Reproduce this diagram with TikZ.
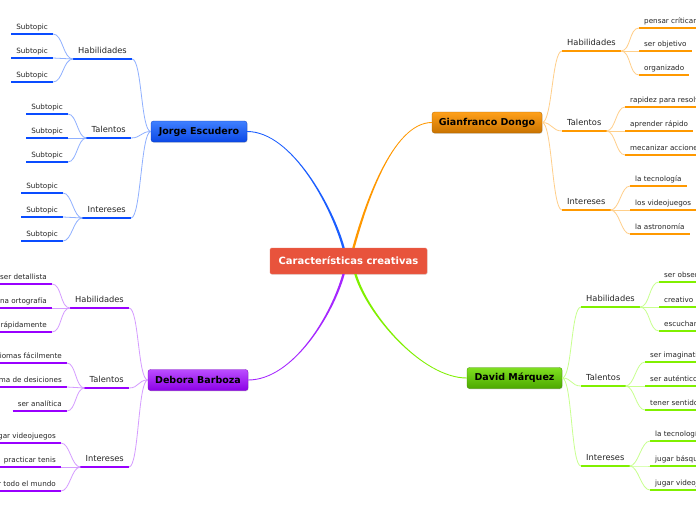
\documentclass[tikz,border=0pt]{standalone}
\usepackage{fontspec}
\setmainfont{DejaVu Sans}
\usetikzlibrary{shadows}
\definecolor{cred}{HTML}{E8533C}
\definecolor{bmain}{HTML}{1B5EFF}
\definecolor{bline}{HTML}{0A4CFF}
\definecolor{blight}{HTML}{8FB0FF}
\definecolor{btop}{HTML}{3F80FF}
\definecolor{bbot}{HTML}{0B48E6}
\definecolor{omain}{HTML}{FF9800}
\definecolor{oline}{HTML}{FF9900}
\definecolor{olight}{HTML}{FFCF8A}
\definecolor{otop}{HTML}{FFA01A}
\definecolor{obot}{HTML}{C97300}
\definecolor{pmain}{HTML}{A526FF}
\definecolor{pline}{HTML}{9900FF}
\definecolor{plight}{HTML}{D59CFF}
\definecolor{ptop}{HTML}{BB4DFF}
\definecolor{pbot}{HTML}{8C00E6}
\definecolor{gmain}{HTML}{80F000}
\definecolor{gline}{HTML}{80F000}
\definecolor{glight}{HTML}{C8FF8F}
\definecolor{gtop}{HTML}{7FE020}
\definecolor{gbot}{HTML}{4CA800}
\tikzset{
  maintopic/.style 2 args={rounded corners=2.5pt, top color=#1, bottom color=#2,
    draw=#2!85!black, line width=0.3pt, minimum height=21pt, inner sep=0pt,
    font=\bfseries\fontsize{9.5}{11}\selectfont, text=black,
    drop shadow={opacity=0.25,shadow xshift=0.6pt,shadow yshift=-0.8pt}},
  branchlbl/.style={font=\fontsize{8.3}{9}\selectfont, text=black!85, inner xsep=5pt,
    inner ysep=5pt, text height=6pt, text depth=0pt},
  sublbl/.style={font=\fontsize{7.2}{8}\selectfont, text=black!85, inner xsep=5pt,
    inner ysep=4.5pt, text height=5.5pt, text depth=0pt},
  uline/.style={line width=2.3pt},
  thinline/.style={line width=0.8pt},
}
% tapered main connector: color, start, ctrl1, ctrl2, end, sx, sy
\newcommand\taperline[7]{%
  \fill[#1] ([xshift={(#6)*1.2pt}]#2) .. controls +(#3) and +(#4) .. ([yshift={(#7)*0.45pt}]#5)
    -- ([yshift={-(#7)*0.45pt}]#5) .. controls +(#4) and +(#3) .. ([xshift={-(#6)*1.2pt}]#2) -- cycle;}
% left-side label with underline (anchor at right end of underline)
\newcommand\lblL[5]{%
  \node[#1, anchor=south east] (#2) at (#3) {#5};
  \draw[uline,#4] (#2.south west) -- (#2.south east);}
% right-side label with underline (anchor at left end of underline)
\newcommand\lblR[5]{%
  \node[#1, anchor=south west] (#2) at (#3) {#5};
  \draw[uline,#4] (#2.south west) -- (#2.south east);}
% bracket connector
\newcommand\conn[4]{\draw[thinline,#1] (#2) .. controls +(#4,0) and +(-#4,0) .. (#3);}
\begin{document}
\begin{tikzpicture}[x=1pt,y=-1pt]
\useasboundingbox (0,0) rectangle (696,520);
\fill[white] (0,0) rectangle (696,520);

% ---------- central + main topics
\node[fill=cred, draw=cred!85!white, rounded corners=1.5pt, minimum width=157pt,
  minimum height=26pt, inner sep=0pt, text=white,
  font=\bfseries\fontsize{10}{12}\selectfont,
  drop shadow={opacity=0.2,shadow xshift=0.6pt,shadow yshift=-0.8pt}] (C) at (348.5,261) {Características creativas};
\node[maintopic={btop}{bbot}, minimum width=96pt] (J) at (199,131.5) {Jorge Escudero};
\node[maintopic={otop}{obot}, minimum width=110pt] (G) at (487,122.5) {Gianfranco Dongo};
\node[maintopic={ptop}{pbot}, minimum width=100pt] (D) at (198,380) {Debora Barboza};
\node[maintopic={gtop}{gbot}, minimum width=95pt] (M) at (514.5,378) {David Márquez};

\coordinate (CNL) at ([xshift=-5pt]C.north);
\coordinate (CNR) at ([xshift=5pt]C.north);
\coordinate (CSL) at ([xshift=-5pt]C.south);
\coordinate (CSR) at ([xshift=7pt]C.south);
\taperline{bmain}{CNL}{-11,-40}{45,0}{J.east}{-1}{-1}
\taperline{omain}{CNR}{11,-40}{-40,0}{G.west}{-1}{1}
\taperline{pmain}{CSL}{-11,40}{45,0}{D.east}{1}{-1}
\taperline{gmain}{CSR}{12,40}{-45,0}{M.west}{1}{1}

% ---------- Jorge Escudero
\lblL{branchlbl}{JH}{132,59}{bline}{Habilidades}
\lblL{branchlbl}{JT}{131,138}{bline}{Talentos}
\lblL{branchlbl}{JI}{131,218}{bline}{Intereses}
\conn{blight}{J.west}{JH.south east}{-10}
\conn{blight}{J.west}{JT.south east}{-10}
\conn{blight}{J.west}{JI.south east}{-10}
\lblL{sublbl}{JH1}{53,34}{bline}{Subtopic}
\lblL{sublbl}{JH2}{53,58}{bline}{Subtopic}
\lblL{sublbl}{JH3}{53,82}{bline}{Subtopic}
\lblL{sublbl}{JT1}{68,114}{bline}{Subtopic}
\lblL{sublbl}{JT2}{68,138}{bline}{Subtopic}
\lblL{sublbl}{JT3}{68,162}{bline}{Subtopic}
\lblL{sublbl}{JI1}{63,193}{bline}{Subtopic}
\lblL{sublbl}{JI2}{63,217}{bline}{Subtopic}
\lblL{sublbl}{JI3}{63,241}{bline}{Subtopic}
\foreach \s in {1,2,3}{
  \conn{blight}{JH.south west}{JH\s.south east}{-10}
  \conn{blight}{JT.south west}{JT\s.south east}{-9}
  \conn{blight}{JI.south west}{JI\s.south east}{-9}
}

% ---------- Gianfranco Dongo
\lblR{branchlbl}{GH}{562,51}{oline}{Habilidades}
\lblR{branchlbl}{GT}{562,131}{oline}{Talentos}
\lblR{branchlbl}{GI}{562,210}{oline}{Intereses}
\conn{olight}{G.east}{GH.south west}{10}
\conn{olight}{G.east}{GT.south west}{10}
\conn{olight}{G.east}{GI.south west}{10}
\lblR{sublbl}{GH1}{639,28}{oline}{pensar críticamente}
\lblR{sublbl}{GH2}{639,51}{oline}{ser objetivo}
\lblR{sublbl}{GH3}{639,75}{oline}{organizado}
\lblR{sublbl}{GT1}{625,107}{oline}{rapidez para resolver}
\lblR{sublbl}{GT2}{625,131}{oline}{aprender rápido}
\lblR{sublbl}{GT3}{625,155}{oline}{mecanizar acciones}
\lblR{sublbl}{GI1}{630,186}{oline}{la tecnología}
\lblR{sublbl}{GI2}{630,210}{oline}{los videojuegos}
\lblR{sublbl}{GI3}{630,234}{oline}{la astronomía}
\foreach \s in {1,2,3}{
  \conn{olight}{GH.south east}{GH\s.south west}{10}
  \conn{olight}{GT.south east}{GT\s.south west}{9}
  \conn{olight}{GI.south east}{GI\s.south west}{9}
}

% ---------- Debora Barboza
\lblL{branchlbl}{DH}{129,308}{pline}{Habilidades}
\lblL{branchlbl}{DT}{129,388}{pline}{Talentos}
\lblL{branchlbl}{DI}{129,467}{pline}{Intereses}
\conn{plight}{D.west}{DH.south east}{-10}
\conn{plight}{D.west}{DT.south east}{-10}
\conn{plight}{D.west}{DI.south east}{-10}
\lblL{sublbl}{DH1}{52,284}{pline}{ser detallista}
\lblL{sublbl}{DH2}{52,308}{pline}{buena ortografía}
\lblL{sublbl}{DH3}{52,332}{pline}{escribir rápidamente}
\lblL{sublbl}{DT1}{67,363}{pline}{aprender idiomas fácilmente}
\lblL{sublbl}{DT2}{67,387}{pline}{buena toma de desiciones}
\lblL{sublbl}{DT3}{67,411}{pline}{ser analítica}
\lblL{sublbl}{DI1}{61,443}{pline}{jugar videojuegos}
\lblL{sublbl}{DI2}{61,467}{pline}{practicar tenis}
\lblL{sublbl}{DI3}{61,491}{pline}{viajar por todo el mundo}
\foreach \s in {1,2,3}{
  \conn{plight}{DH.south west}{DH\s.south east}{-10}
  \conn{plight}{DT.south west}{DT\s.south east}{-9}
  \conn{plight}{DI.south west}{DI\s.south east}{-9}
}

% ---------- David Márquez
\lblR{branchlbl}{MH}{581,307}{gline}{Habilidades}
\lblR{branchlbl}{MT}{581,386}{gline}{Talentos}
\lblR{branchlbl}{MI}{581,466}{gline}{Intereses}
\conn{glight}{M.east}{MH.south west}{10}
\conn{glight}{M.east}{MT.south west}{10}
\conn{glight}{M.east}{MI.south west}{10}
\lblR{sublbl}{MH1}{659,282}{gline}{ser observador}
\lblR{sublbl}{MH2}{659,307}{gline}{creativo}
\lblR{sublbl}{MH3}{659,331}{gline}{escuchar}
\lblR{sublbl}{MT1}{645,362}{gline}{ser imaginativo}
\lblR{sublbl}{MT2}{645,386}{gline}{ser auténtico}
\lblR{sublbl}{MT3}{645,410}{gline}{tener sentido del humor}
\lblR{sublbl}{MI1}{650,441}{gline}{la tecnología}
\lblR{sublbl}{MI2}{650,466}{gline}{jugar básquet}
\lblR{sublbl}{MI3}{650,490}{gline}{jugar videojuegos}
\foreach \s in {1,2,3}{
  \conn{glight}{MH.south east}{MH\s.south west}{10}
  \conn{glight}{MT.south east}{MT\s.south west}{9}
  \conn{glight}{MI.south east}{MI\s.south west}{9}
}
\end{tikzpicture}
\end{document}
